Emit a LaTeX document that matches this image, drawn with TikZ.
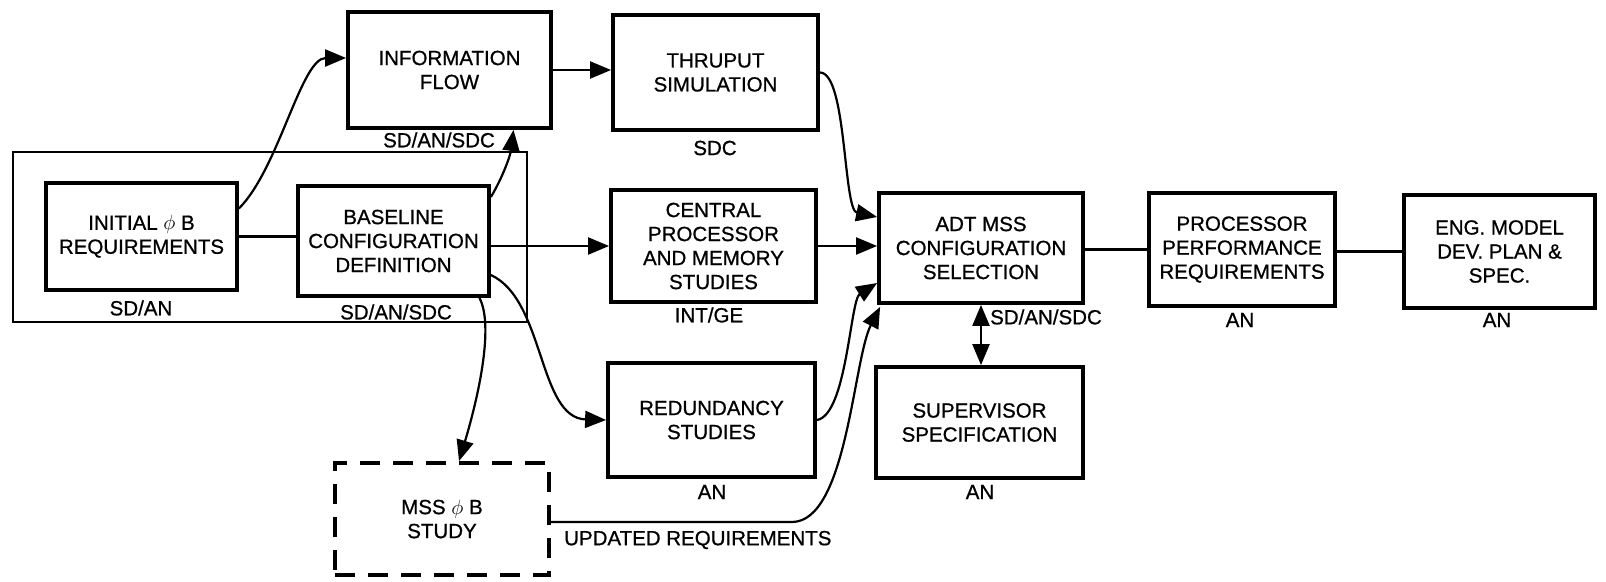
\documentclass[tikz,border=0pt]{standalone}
\usepackage{fontspec}
\setmainfont{Liberation Sans}[FakeBold=0.8]
\usetikzlibrary{arrows.meta,calc}
\begin{document}
\begin{tikzpicture}[x=1pt,y=-1pt,
  every node/.style={font=\fontsize{20.5}{24}\selectfont},
  box/.style={draw, line width=3.8pt, align=center, inner sep=0pt},
  planbox/.style={draw, line width=3.8pt, dash pattern=on 20pt off 13pt, align=center, inner sep=0pt},
  grp/.style={draw, line width=2.2pt, inner sep=0pt},
  tag/.style={inner sep=0pt},
  wire/.style={line width=2.2pt},
  flow/.style={line width=2.2pt, -{Triangle[length=21pt,width=17pt]}},
  twoway/.style={line width=2.2pt, {Triangle[length=21pt,width=17pt]}-{Triangle[length=21pt,width=17pt]}}
]
\useasboundingbox (0,0) rectangle (1606,581);

% grouping frame round the first two tasks
\node[grp, minimum width=514pt, minimum height=170pt] (grp) at (270,237) {};

% task boxes
\node[box, minimum width=191pt, minimum height=107pt] (init) at (141.5,236.5) {INITIAL $\phi$ B\\REQUIREMENTS};
\node[box, minimum width=191pt, minimum height=110pt] (base) at (393.5,241) {BASELINE\\CONFIGURATION\\DEFINITION};
\node[box, minimum width=203pt, minimum height=116pt] (info) at (449.5,70) {INFORMATION\\FLOW};
\node[box, minimum width=205pt, minimum height=115pt] (thru) at (715.5,72.5) {THRUPUT\\SIMULATION};
\node[box, minimum width=205pt, minimum height=112pt] (cpu) at (713.5,246) {CENTRAL\\PROCESSOR\\AND MEMORY\\STUDIES};
\node[box, minimum width=207pt, minimum height=114pt] (red) at (711.5,420) {REDUNDANCY\\STUDIES};
\node[planbox, minimum width=214pt, minimum height=112pt] (mss) at (442,519) {MSS $\phi$ B\\STUDY};
\node[box, minimum width=204pt, minimum height=110pt] (adt) at (981,248) {ADT MSS\\CONFIGURATION\\SELECTION};
\node[box, minimum width=207pt, minimum height=111pt] (sup) at (979.5,422.5) {SUPERVISOR\\SPECIFICATION};
\node[box, minimum width=186pt, minimum height=113pt] (proc) at (1242,249.5) {PROCESSOR\\PERFORMANCE\\REQUIREMENTS};
\node[box, minimum width=191pt, minimum height=113pt] (eng) at (1499.5,251.5) {ENG. MODEL\\DEV. PLAN \&\\SPEC.};

% responsible organisations
\node[tag] (initT) at (141,308) {SD/AN};
\node[tag] (baseT) at (396,312) {SD/AN/SDC};
\node[tag] (infoT) at (439,140) {SD/AN/SDC};
\node[tag] (thruT) at (715,148) {SDC};
\node[tag] (cpuT) at (709,315) {INT/GE};
\node[tag] (redT) at (712,492) {AN};
\node[tag, anchor=west] (adtT) at (990,317) {SD/AN/SDC};
\node[tag] (supT) at (980,492) {AN};
\node[tag] (procT) at (1240,320) {AN};
\node[tag] (engT) at (1497,320) {AN};
\node[tag, anchor=west] (updT) at (564,540) {UPDATED REQUIREMENTS};

% connectors
\draw[wire] (init.east) -- (init.east -| base.west);
\draw[flow] ([yshift=28pt]init.east) .. controls +(40,-40) and +(-45,0) .. ([yshift=12pt]info.west);
\draw[flow] ([yshift=44pt]base.east) .. controls +(12,-20) and +(-3,25) .. ([xshift=64pt]info.south);
\draw[flow] (base.east |- cpu.west) -- (cpu.west);
\draw[flow] ([yshift=-34pt]base.east) .. controls +(54,25) and +(-68,-2) .. (red.west);
\draw[flow] ([xshift=86pt]base.south) .. controls +(17,33) and +(13,-43) .. ([xshift=17pt]mss.north);
\draw[flow] (info.east) -- (info.east -| thru.west);
\draw[flow] (thru.east) .. controls +(27,0) and +(-34,-7) .. ([yshift=31pt]adt.west);
\draw[flow] (cpu.east) -- (cpu.east -| adt.west);
\draw[flow] (red.east) .. controls +(30,-5) and +(-27,17) .. ([yshift=-35pt]adt.west);
\coordinate (bend) at ($(mss.east)+(241,3)$);
\draw[flow] (mss.east |- bend) -- (bend) .. controls +(55,0) and +(-27,53) .. ([xshift=3pt,yshift=-2pt]adt.south west);
\draw[twoway] (adt.south) -- (adt.south |- sup.north);
\draw[wire] (adt.east |- proc.west) -- (proc.west);
\draw[wire] (proc.east |- eng.west) -- (eng.west);
\end{tikzpicture}
\end{document}
